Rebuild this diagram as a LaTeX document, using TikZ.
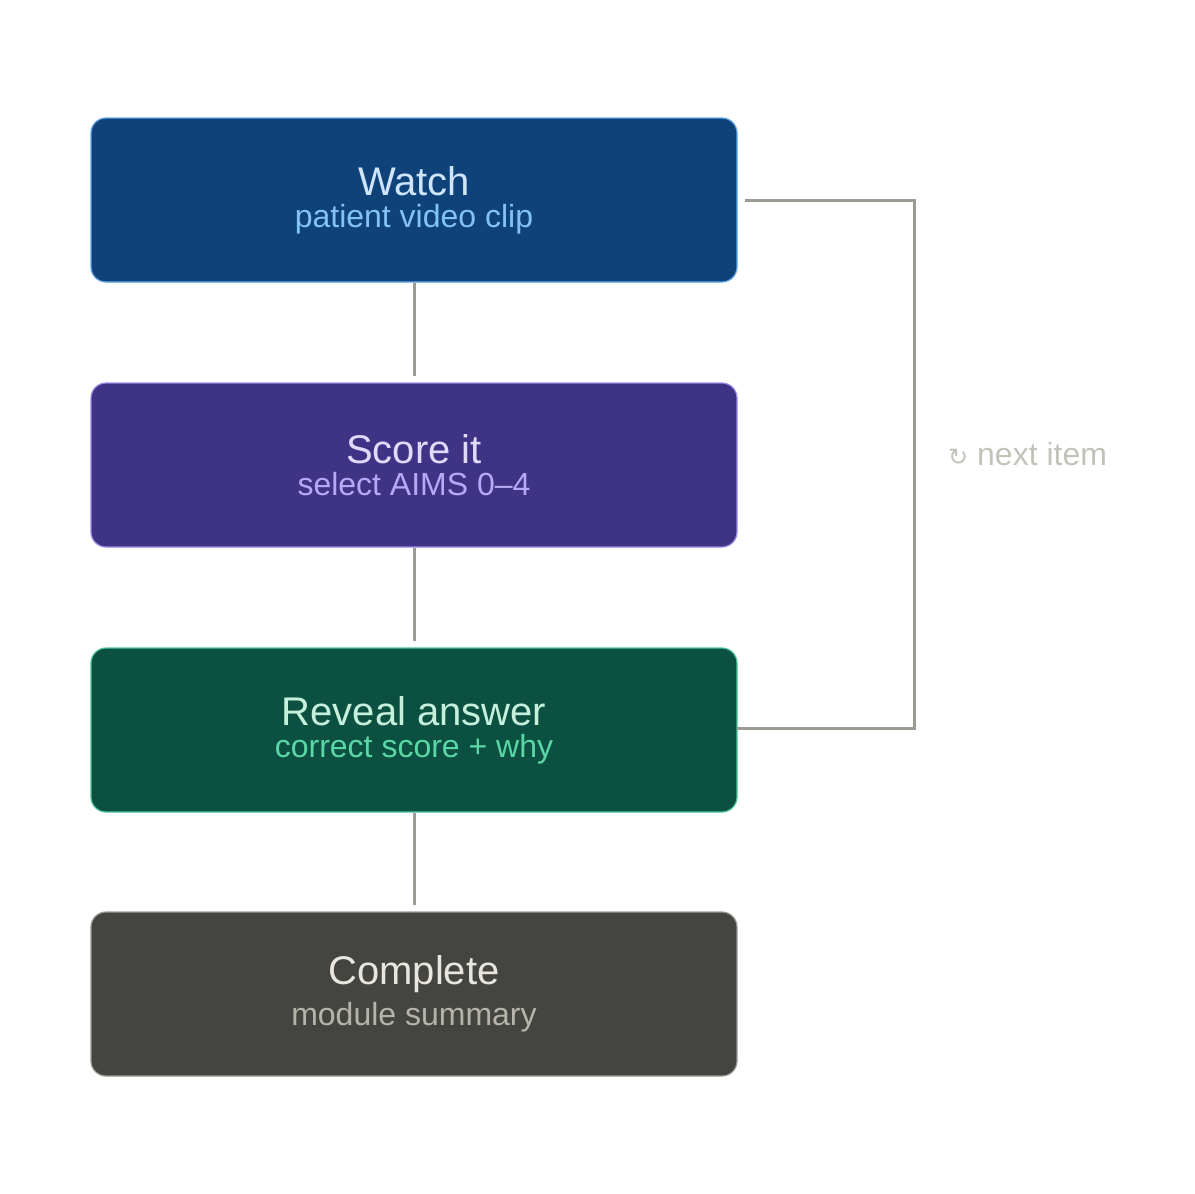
\documentclass[tikz,border=0pt]{standalone}
\usepackage{fontspec}
\setmainfont{Liberation Sans}
\newfontfamily\symfont{DejaVu Sans}
\usetikzlibrary{positioning}
\definecolor{linkgray}{HTML}{9C9C94}
\definecolor{notegray}{HTML}{C3C2B8}
\definecolor{watchfill}{HTML}{0E4279}
\definecolor{watchline}{HTML}{5BA8E8}
\definecolor{watchtop}{HTML}{D0E4FA}
\definecolor{watchsub}{HTML}{82C2F5}
\definecolor{scorefill}{HTML}{3F3386}
\definecolor{scoreline}{HTML}{9B8CE8}
\definecolor{scoretop}{HTML}{E0DAFA}
\definecolor{scoresub}{HTML}{B7A8F5}
\definecolor{revealfill}{HTML}{0B5040}
\definecolor{revealline}{HTML}{4CC79C}
\definecolor{revealtop}{HTML}{C5F0DC}
\definecolor{revealsub}{HTML}{5BD6A6}
\definecolor{donefill}{HTML}{444441}
\definecolor{doneline}{HTML}{9A9A94}
\definecolor{donetop}{HTML}{E8E6DE}
\definecolor{donesub}{HTML}{B5B3AA}
\newcommand{\steptext}[4]{{\color{#1}\fontsize{20pt}{24pt}\selectfont #2}\\[4pt]{\color{#3}\fontsize{16pt}{19pt}\selectfont #4}}

\begin{document}
\begin{tikzpicture}[x=0.5pt,y=-0.5pt,line width=1.5pt]
	
	\tikzset{step box/.style={draw, rounded corners=7.5pt, line width=0.6pt,
			minimum width=323pt, minimum height=82pt, align=center,
			inner sep=0pt}}
	\tikzset{step link/.style={draw=linkgray, line width=1.5pt}}
	
	\useasboundingbox (0,0) rectangle (1195,1194);
	
	\node[step box, fill=watchfill, draw=watchline] (watch) at (414,200)
	{\steptext{watchtop}{Watch}{watchsub}{patient video clip}};
	\node[step box, fill=scorefill, draw=scoreline] (score) at (414,465)
	{\steptext{scoretop}{Score it}{scoresub}{select AIMS 0–4}};
	\node[step box, fill=revealfill, draw=revealline] (reveal) at (414,730)
	{\steptext{revealtop}{Reveal answer}{revealsub}{correct score + why}};
	\node[step box, fill=donefill, draw=doneline] (done) at (414,994)
	{\steptext{donetop}{Complete}{donesub}{module summary}};
	
	% links between the steps
	\coordinate (s1) at (414,376);
	\coordinate (s2) at (414,641);
	\coordinate (s3) at (414,905);
	\draw[step link] (watch.south) -- (s1);
	\draw[step link] (score.south) -- (s2);
	\draw[step link] (reveal.south) -- (s3);
	
	% loop back
	\coordinate (lp1) at (745,200);
	\coordinate (lp2) at (914,200);
	\coordinate (lp3) at (914,728);
	\coordinate (lp4) at (737,728);
	\draw[step link] (lp1) -- (lp2) -- (lp3) -- (lp4);
	\node[anchor=west, text=notegray, font=\fontsize{16pt}{19pt}\selectfont] (next) at (940,454)
	{{\symfont\fontsize{12pt}{14pt}\selectfont ↻} next item};
\end{tikzpicture}
\end{document}
